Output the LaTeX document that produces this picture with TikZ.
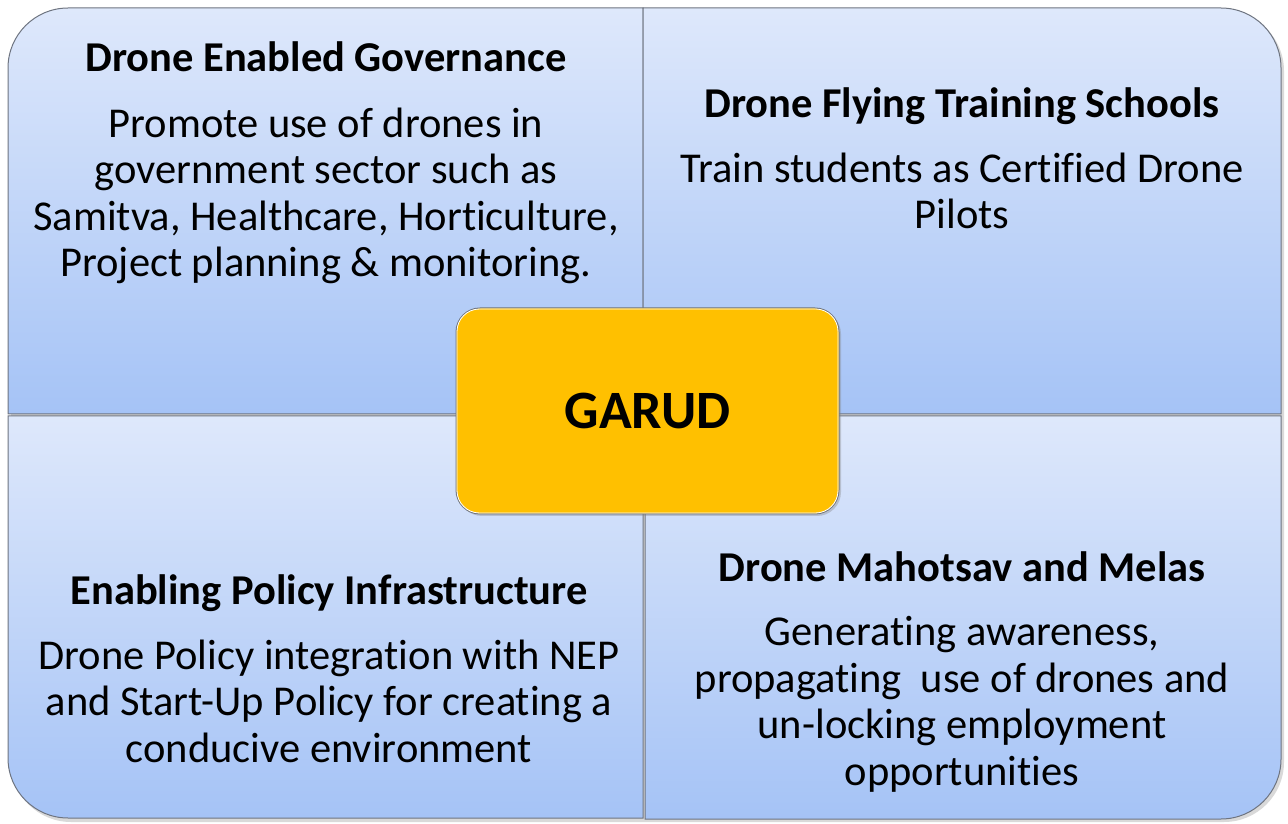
\documentclass[tikz,border=0pt]{standalone}
\usepackage{fontspec}
\setmainfont{Carlito}[Ligatures=NoCommon]
\usetikzlibrary{shadows}
\definecolor{qtop}{HTML}{DEE8FB}
\definecolor{qbot}{HTML}{A5C3F6}
\definecolor{gold}{HTML}{FFC000}
\definecolor{edge}{HTML}{6E7480}
\tikzset{
  quad/.style={draw=edge, line width=1pt, top color=qtop, bottom color=qbot},
  ttl/.style={font=\fontsize{42.5}{46.5}\selectfont\bfseries, align=center, inner sep=0pt, anchor=base},
  body/.style={font=\fontsize{42.5}{46.5}\selectfont, align=center, inner sep=0pt, anchor=base},
  hub/.style={draw=edge, line width=1pt, fill=gold, rounded corners=24pt, minimum width=383pt, minimum height=206pt,
    font=\fontsize{54}{58}\selectfont\bfseries, drop shadow={shadow xshift=2pt, shadow yshift=-2pt, opacity=0.35}}
}
\begin{document}
\begin{tikzpicture}[x=1pt,y=1pt]
\useasboundingbox (0,0) rectangle (1288,823);
% shadow of the whole panel
\fill[black, opacity=0.15] (11,62) -- (11,752) arc[start angle=180,end angle=90,radius=60] -- (1224,812)
  arc[start angle=90,end angle=0,radius=60] -- (1284,61) arc[start angle=0,end angle=-90,radius=60] -- (71,1)
  arc[start angle=270,end angle=180,radius=60] -- cycle;
% quadrants
\path[quad] (643,409) -- (8,409) -- (8,755) arc[start angle=180,end angle=90,radius=60] -- (643,815) -- cycle;
\path[quad] (643,409) -- (643,815) -- (1221,815) arc[start angle=90,end angle=0,radius=60] -- (1281,409) -- cycle;
\path[quad] (643,407) -- (643,5) -- (68,5) arc[start angle=270,end angle=180,radius=60] -- (8,407) -- cycle;
\path[quad] (645,407) -- (1281,407) -- (1281,64) arc[start angle=0,end angle=-90,radius=60] -- (645,4) -- cycle;
% texts (base anchor = baseline of the last line)
\node[ttl] (t1) at (326,751) {Drone Enabled Governance};
\node[body] (b1) at (326,546) {Promote use of drones in\\government sector such as\\Samitva, Healthcare, Horticulture,\\Project planning \& monitoring.};
\node[ttl] (t2) at (962,705) {Drone Flying Training Schools};
\node[body] (b2) at (962,594) {Train students as Certified Drone\\Pilots};
\node[ttl] (t3) at (329,219) {Enabling Policy Infrastructure};
\node[body] (b3) at (329,61) {Drone Policy integration with NEP\\and Start-Up Policy for creating a\\conducive environment};
\node[ttl] (t4) at (962,242) {Drone Mahotsav and Melas};
\node[body] (b4) at (962,38) {Generating awareness,\\propagating\ \ use of drones and\\un-locking employment\\opportunities};
% hub
\node[hub] (garud) at (647.5,412) {GARUD};
\draw[white, line width=0.8pt, rounded corners=22.5pt] ([shift={(1.5pt,1.5pt)}]garud.south west) rectangle ([shift={(-1.5pt,-1.5pt)}]garud.north east);
\end{tikzpicture}
\end{document}
